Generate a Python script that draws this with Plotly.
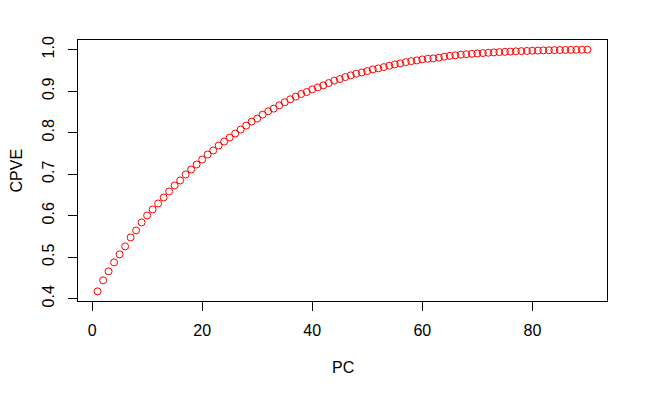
import plotly.graph_objects as go

pc = list(range(1, 91))
cpve = [
    0.4178, 0.4443, 0.4660, 0.4876, 0.5068, 0.5260, 0.5477, 0.5645, 0.5838, 0.6006,
    0.6150, 0.6295, 0.6439, 0.6584, 0.6728, 0.6848, 0.6993, 0.7113, 0.7233, 0.7353,
    0.7474, 0.7570, 0.7690, 0.7786, 0.7883, 0.7979, 0.8075, 0.8171, 0.8267, 0.8340,
    0.8436, 0.8515, 0.8580, 0.8660, 0.8732, 0.8804, 0.8869, 0.8932, 0.8980, 0.9044,
    0.9092, 0.9140, 0.9196, 0.9253, 0.9292, 0.9340, 0.9381, 0.9421, 0.9452, 0.9484,
    0.9525, 0.9549, 0.9580, 0.9613, 0.9645, 0.9669, 0.9700, 0.9724, 0.9741, 0.9765,
    0.9781, 0.9790, 0.9808, 0.9830, 0.9850, 0.9865, 0.9880, 0.9890, 0.9900, 0.9910,
    0.9918, 0.9926, 0.9934, 0.9941, 0.9948, 0.9954, 0.9960, 0.9965, 0.9970, 0.9974,
    0.9978, 0.9982, 0.9985, 0.9988, 0.9991, 0.9993, 0.9995, 0.9997, 0.9999, 1.0000,
]
x_ticks = [0, 20, 40, 60, 80]
y_ticks = [0.4, 0.5, 0.6, 0.7, 0.8, 0.9, 1.0]
y_tick_labels = ["0.4", "0.5", "0.6", "0.7", "0.8", "0.9", "1.0"]

# R-style 4% range extension
xmin, xmax = min(pc), max(pc)
ymin, ymax = min(cpve), max(cpve)
xpad = (xmax - xmin) * 0.04
ypad = (ymax - ymin) * 0.04

font = dict(family="Liberation Sans, Arial, sans-serif", size=16, color="black")

fig = go.Figure()
fig.add_trace(go.Scatter(
    x=pc, y=cpve, mode="markers",
    marker=dict(symbol="circle-open", size=7, color="red", line=dict(width=1, color="red")),
    showlegend=False,
))

# page body has an 8px default margin, so the figure is sized/offset to compensate
fig.update_layout(
    width=638, height=391,
    margin=dict(l=70, r=39, t=32, b=98, autoexpand=False),
    paper_bgcolor="white", plot_bgcolor="white",
    font=font,
    xaxis=dict(
        range=[xmin - xpad, xmax + xpad], tickvals=x_ticks,
        ticktext=[str(v) for v in x_ticks], automargin=False,
        showgrid=False, zeroline=False, showline=True, mirror=True,
        linecolor="black", linewidth=1, ticks="outside", ticklen=9,
        tickwidth=1, tickcolor="black", ticklabelstandoff=6,
    ),
    yaxis=dict(
        range=[ymin - ypad, ymax + ypad], tickvals=y_ticks, ticktext=y_tick_labels,
        tickangle=-90, automargin=False,
        showgrid=False, zeroline=False, showline=True, mirror=True,
        linecolor="black", linewidth=1, ticks="outside", ticklen=9,
        tickwidth=1, tickcolor="black", ticklabelstandoff=8,
    ),
    annotations=[
        dict(text="PC", x=0.5, y=0, xref="paper", yref="paper",
             xanchor="center", yanchor="middle", yshift=-66, showarrow=False, font=font),
        dict(text="CPVE", x=0, y=0.5, xref="paper", yref="paper", textangle=-90,
             xanchor="center", yanchor="middle", xshift=-62, showarrow=False, font=font),
    ],
)

fig.write_html("out.html")
